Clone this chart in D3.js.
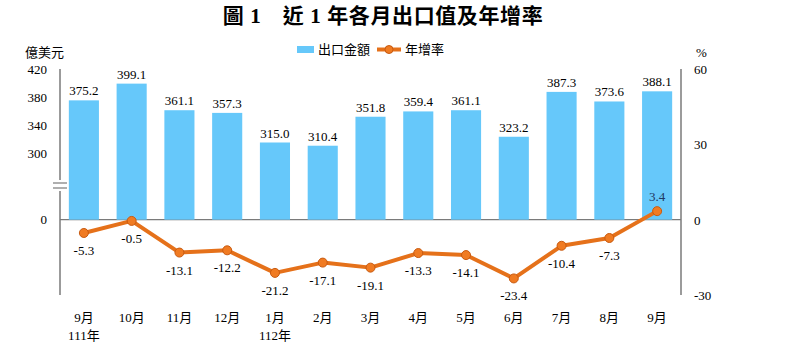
<!DOCTYPE html>
<html lang="zh-Hant">
<head>
    <meta charset="UTF-8">
    <title>近1年各月出口值及年增率</title>
    <script src="https://cdn.jsdelivr.net/npm/d3@7"></script>
    <style>
        body{
            margin:0px;
            background:white;
        }
        text{
            font-family:'Liberation Serif','Noto Sans CJK TC',serif;
        }
    </style>
</head>
<body>
    <svg id="graph">
        <g id='axes'></g>
        <g id='barres'></g>
        <g id='ligne'></g>
        <g id='legende'></g>
    </svg>
</body>
<script>
    const months  = ['9月','10月','11月','12月','1月','2月','3月','4月','5月','6月','7月','8月','9月'];
    const years   = ['111年','','','','112年','','','','','','','',''];
    const exports = [375.2,399.1,361.1,357.3,315.0,310.4,351.8,359.4,361.1,323.2,387.3,373.6,388.1];
    const growth  = [-5.3,-0.5,-13.1,-12.2,-21.2,-17.1,-19.1,-13.3,-14.1,-23.4,-10.4,-7.3,3.4];
    const leftTicks  = [300,340,380,420];
    const rightTicks = [-30,0,30,60];

    const w = 800, h = 353;
    const xL = 60, xR = 681, yTop = 69, yBot = 295;
    const barColor = '#66c8fa', lineColor = '#e5711a', dotColor = '#f07b22', dotStroke = '#c85a10';

    const svg = d3.select('#graph').attr('width', w).attr('height', h);

    const x = d3.scaleBand().domain(d3.range(months.length)).range([xL, xR])
        .paddingInner(0.37).paddingOuter(0.185);
    // axe gauche coupé : 300..420 linéaire, le 0 est posé sur la ligne de base
    const yBar = d3.scaleLinear().domain([300, 420]).range([153, yTop]);
    const yRate = d3.scaleLinear().domain([-30, 60]).range([yBot, yTop]);
    const yZero = yRate(0);

    // titre
    svg.append('text').attr('x', 383).attr('y', 23).attr('text-anchor', 'middle')
        .attr('font-size', '21px').attr('font-weight', 'bold').attr('letter-spacing', '0.6px')
        .text('圖 1　近 1 年各月出口值及年增率');

    // unités
    svg.append('text').attr('x', 25).attr('y', 57).attr('font-size', '13px').text('億美元');
    svg.append('text').attr('x', 696).attr('y', 57).attr('font-size', '13px').text('%');

    const axes = d3.select('#axes');
    // barres
    d3.select('#barres').selectAll('rect').data(exports).join('rect')
        .attr('x', (d, i) => x(i)).attr('width', x.bandwidth())
        .attr('y', d => yBar(d)).attr('height', d => yZero - yBar(d))
        .attr('fill', barColor);
    d3.select('#barres').selectAll('text').data(exports).join('text')
        .attr('x', (d, i) => x(i) + x.bandwidth() / 2).attr('y', d => yBar(d) - 5)
        .attr('text-anchor', 'middle').attr('font-size', '13px')
        .text(d => d.toFixed(1));

    // ligne de base
    axes.append('line').attr('x1', xL).attr('x2', xR).attr('y1', yZero).attr('y2', yZero)
        .attr('stroke', '#7a7a7a').attr('stroke-width', 1.2);

    // axe gauche avec coupure
    axes.append('line').attr('x1', xL).attr('x2', xL).attr('y1', yTop).attr('y2', 180)
        .attr('stroke', '#7a7a7a').attr('stroke-width', 1.5);
    axes.append('line').attr('x1', xL).attr('x2', xL).attr('y1', 191).attr('y2', yBot)
        .attr('stroke', '#7a7a7a').attr('stroke-width', 1.5);
    [183, 188].forEach(yy => axes.append('line').attr('x1', 53).attr('x2', 67)
        .attr('y1', yy).attr('y2', yy).attr('stroke', '#7a7a7a').attr('stroke-width', 1.2));

    axes.selectAll('.tg').data(leftTicks).join('text').attr('class', 'tg')
        .attr('x', 47).attr('y', d => yBar(d) + 5).attr('text-anchor', 'end')
        .attr('font-size', '13px').text(d => d);
    axes.append('text').attr('x', 47).attr('y', yZero + 4).attr('text-anchor', 'end')
        .attr('font-size', '13px').text('0');

    // axe droit
    axes.append('line').attr('x1', xR).attr('x2', xR).attr('y1', yTop).attr('y2', yBot)
        .attr('stroke', '#7a7a7a').attr('stroke-width', 1.5);
    axes.selectAll('.td').data(rightTicks).join('text').attr('class', 'td')
        .attr('x', 694).attr('y', d => yRate(d) + 5)
        .attr('font-size', '13px').text(d => d);

    // étiquettes des mois
    axes.selectAll('.mois').data(months).join('text').attr('class', 'mois')
        .attr('x', (d, i) => x(i) + x.bandwidth() / 2).attr('y', 322)
        .attr('text-anchor', 'middle').attr('font-size', '13px').text(d => d);
    axes.selectAll('.an').data(years).join('text').attr('class', 'an')
        .attr('x', (d, i) => x(i) + x.bandwidth() / 2).attr('y', 340)
        .attr('text-anchor', 'middle').attr('font-size', '13px').text(d => d);

    // ligne du taux de croissance
    const cx = i => x(i) + x.bandwidth() / 2;
    const gl = d3.select('#ligne');
    gl.append('path').datum(growth)
        .attr('d', d3.line().x((d, i) => cx(i)).y(d => yRate(d)))
        .attr('fill', 'none').attr('stroke', lineColor).attr('stroke-width', 4)
        .attr('stroke-linejoin', 'round');
    gl.selectAll('circle').data(growth).join('circle')
        .attr('cx', (d, i) => cx(i)).attr('cy', d => yRate(d)).attr('r', 4.5)
        .attr('fill', dotColor).attr('stroke', dotStroke).attr('stroke-width', 1);
    gl.selectAll('text').data(growth).join('text')
        .attr('x', (d, i) => cx(i)).attr('y', d => d > 0 ? yRate(d) - 10 : yRate(d) + 22)
        .attr('text-anchor', 'middle').attr('font-size', '13px')
        .attr('fill', d => d > 0 ? '#1f3864' : 'black')
        .text(d => d.toFixed(1));

    // légende
    const lg = d3.select('#legende');
    lg.append('rect').attr('x', 297).attr('y', 46).attr('width', 17).attr('height', 7).attr('fill', barColor);
    lg.append('text').attr('x', 318).attr('y', 54).attr('font-size', '13px').text('出口金額');
    lg.append('line').attr('x1', 377).attr('x2', 401).attr('y1', 49.5).attr('y2', 49.5)
        .attr('stroke', lineColor).attr('stroke-width', 4);
    lg.append('circle').attr('cx', 389).attr('cy', 49.5).attr('r', 4)
        .attr('fill', dotColor).attr('stroke', dotStroke).attr('stroke-width', 1);
    lg.append('text').attr('x', 405).attr('y', 54).attr('font-size', '13px').text('年增率');
</script>
</html>
